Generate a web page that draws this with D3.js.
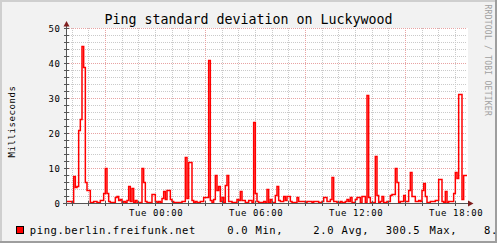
<!DOCTYPE html>
<html>
<head>
<meta charset="utf-8">
<script src="https://cdn.jsdelivr.net/npm/d3@7"></script>
<style>
body { margin: 0; background: #f2f2f2; }
svg { display: block; }
text { font-family: "DejaVu Sans Mono", monospace; }
</style>
</head>
<body>
<script>
var width = 497;
var height = 243;

// ping std deviation in ms, one value every 6 minutes (one row = one hour)
var pingStdDev = [
  0.7, 0.7, 0.5, 0.3, 7.7, 4.5, 5.0, 21.0, 24.0, 45.0,
  39.0, 6.1, 3.7, 3.7, 0.3, 0.3, 0.6, 0.6, 0.3, 0.3,
  0.9, 0.9, 2.8, 9.9, 2.8, 0.5, 0.3, 0.3, 0.3, 1.7,
  2.0, 0.8, 1.2, 0.3, 0.6, 0.3, 1.0, 4.9, 0.5, 4.4,
  0.4, 0.8, 0.4, 0.3, 0.3, 9.9, 6.1, 0.7, 0.3, 0.3,
  0.4, 2.5, 2.5, 0.7, 0.3, 0.7, 0.3, 1.5, 3.5, 1.2,
  3.6, 3.6, 1.1, 0.6, 0.3, 0.3, 0.3, 0.3, 0.3, 0.6,
  0.6, 13.2, 1.4, 11.6, 11.6, 1.0, 0.3, 0.6, 0.3, 0.3,
  0.6, 0.6, 1.6, 1.6, 1.6, 41.0, 0.9, 0.3, 1.1, 8.0,
  3.7, 5.0, 0.6, 1.6, 0.3, 5.1, 8.1, 0.6, 0.5, 0.3,
  0.3, 0.3, 1.1, 0.8, 3.5, 0.8, 0.9, 0.3, 0.3, 0.8,
  0.8, 0.3, 23.2, 3.0, 0.5, 0.3, 0.3, 0.3, 0.6, 0.3,
  4.0, 0.3, 1.1, 0.3, 0.3, 2.3, 5.0, 0.8, 0.5, 0.5,
  2.1, 0.8, 2.1, 2.1, 0.6, 0.3, 0.3, 0.3, 1.7, 0.6,
  0.6, 0.6, 0.6, 0.3, 0.6, 0.6, 0.6, 0.3, 0.6, 0.6,
  0.6, 0.3, 0.3, 0.6, 1.7, 1.7, 0.6, 0.6, 1.2, 7.3,
  0.6, 0.6, 0.3, 0.3, 0.6, 0.3, 0.3, 0.6, 1.1, 0.6,
  1.6, 0.3, 0.3, 1.2, 1.7, 1.7, 0.3, 2.0, 2.0, 0.3,
  30.9, 1.7, 0.3, 0.3, 0.3, 13.4, 2.3, 0.3, 0.6, 2.0,
  0.3, 0.3, 0.6, 0.6, 2.4, 2.5, 2.5, 9.9, 6.1, 0.3,
  0.6, 0.6, 2.3, 0.6, 0.6, 3.7, 9.0, 2.0, 2.0, 0.6,
  0.6, 0.9, 0.6, 3.7, 5.6, 1.9, 0.3, 0.3, 0.6, 0.6,
  0.6, 1.0, 1.0, 6.8, 6.8, 0.6, 0.3, 3.3, 0.3, 0.6,
  0.6, 0.6, 2.9, 9.0, 7.2, 31.1, 31.1, 1.2, 8.0, 8.0
];
var stepMinutes = 6;
var startTime = new Date(2012, 11, 31, 18, 42);   // Mon 18:42

var yTicks = [0, 10, 20, 30, 40, 50];
var legendName = "ping.berlin.freifunk.net";
var legendItems = [
  {text: "0.0", x: 227.3}, {text: "Min,", x: 255.5},
  {text: "2.0", x: 313.3}, {text: "Avg,", x: 341.5},
  {text: "300.5", x: 385.7}, {text: "Max,", x: 429.5},
  {text: "8.", x: 484}
];

var series = pingStdDev.map(function(v, i) {
  return {t: d3.timeMinute.offset(startTime, i * stepMinutes), v: v};
});
var endTime = d3.timeMinute.offset(startTime, pingStdDev.length * stepMinutes);
series.push({t: endTime, v: pingStdDev[pingStdDev.length - 1]});

var x = d3.scaleTime().domain([startTime, endTime]).range([67, 467]);
var y = d3.scaleLinear().domain([0, 50]).range([203.5, 28.5]);

function snap(v) { return Math.floor(v) + 0.5; }

var svg = d3.select("body")
            .append("svg")
            .attr("width", width)
            .attr("height", height);

// background + 3d border
svg.append("rect").attr("width", width).attr("height", height).attr("fill", "#f2f2f2");
svg.append("rect").attr("x", 0).attr("y", 0).attr("width", width).attr("height", 2).attr("fill", "#cfcfcf");
svg.append("rect").attr("x", 0).attr("y", 0).attr("width", 2).attr("height", height).attr("fill", "#cfcfcf");
svg.append("rect").attr("x", 0).attr("y", height - 2).attr("width", width).attr("height", 2).attr("fill", "#9e9e9e");
svg.append("rect").attr("x", width - 2).attr("y", 0).attr("width", 2).attr("height", height).attr("fill", "#9e9e9e");

// canvas
svg.append("rect")
   .attr("x", 67).attr("y", 28)
   .attr("width", 401).attr("height", 176)
   .attr("fill", "#ffffff");

var grid = svg.append("g").attr("shape-rendering", "crispEdges");

// horizontal grid
d3.range(0, 51, 2).forEach(function(v) {
  var major = v % 10 === 0;
  grid.append("line")
      .attr("x1", 67).attr("x2", 467)
      .attr("y1", snap(y(v))).attr("y2", snap(y(v)))
      .attr("stroke", major ? "#e8a3a3" : "#cacaca")
      .attr("stroke-dasharray", "1,1");
});

// vertical grid
var hours = d3.timeHour.range(startTime, endTime);
hours.forEach(function(h) {
  var major = h.getHours() % 6 === 3;
  grid.append("line")
      .attr("x1", snap(x(h))).attr("x2", snap(x(h)))
      .attr("y1", 28).attr("y2", 203)
      .attr("stroke", major ? "#e8a3a3" : "#cacaca")
      .attr("stroke-dasharray", "1,1");
});

// data line (stepped, like rrdtool LINE1)
var line = d3.line()
    .x(function(d) { return x(d.t); })
    .y(function(d) { return snap(y(d.v)); })
    .curve(d3.curveStepAfter);

svg.append("path")
   .datum(series)
   .attr("d", line)
   .attr("fill", "none")
   .attr("stroke", "#ff0000")
   .attr("stroke-width", 1.5);

// axes
var axis = svg.append("g").attr("shape-rendering", "crispEdges").attr("stroke", "#555");
axis.append("line").attr("x1", 66.5).attr("x2", 66.5).attr("y1", 206).attr("y2", 26);
axis.append("line").attr("x1", 63).attr("x2", 468).attr("y1", 203.5).attr("y2", 203.5);
d3.range(0, 51, 2).forEach(function(v) {
  axis.append("line").attr("x1", 64).attr("x2", 69)
      .attr("y1", snap(y(v))).attr("y2", snap(y(v)));
});
hours.forEach(function(h) {
  axis.append("line").attr("x1", snap(x(h))).attr("x2", snap(x(h)))
      .attr("y1", 201).attr("y2", 206);
});

// arrows
svg.append("path").attr("d", "M63.5,26.5L66.5,21L69.5,26.5Z").attr("fill", "#801f1f");
svg.append("path").attr("d", "M468,200.5L473.5,203.5L468,206.5Z").attr("fill", "#801f1f");

// y tick labels
svg.selectAll(".ylab")
   .data(yTicks)
   .enter().append("text")
   .attr("x", 60.5)
   .attr("y", function(d) { return y(d) + 3.5; })
   .attr("text-anchor", "end")
   .attr("font-size", "9px")
   .attr("letter-spacing", "0.6px")
   .text(function(d) { return d; });

// x tick labels
var fmt = d3.timeFormat("%a %H:%M");
svg.selectAll(".xlab")
   .data(hours.filter(function(h) { return h.getHours() % 6 === 0; }))
   .enter().append("text")
   .attr("x", function(d) { return x(d) + 0.8; })
   .attr("y", 216)
   .attr("text-anchor", "middle")
   .attr("font-size", "9px")
   .attr("letter-spacing", "0.6px")
   .text(function(d) { return fmt(d); });

// title
svg.append("text")
   .attr("x", 248.5).attr("y", 24)
   .attr("text-anchor", "middle")
   .attr("font-size", "13.3px")
   .text("Ping standard deviation on Luckywood");

// vertical label
svg.append("text")
   .attr("transform", "translate(14.5,121.5) rotate(-90)")
   .attr("text-anchor", "middle")
   .attr("font-size", "9px")
   .attr("letter-spacing", "0.6px")
   .text("Milliseconds");

// watermark
svg.append("text")
   .attr("transform", "translate(484.5,4.5) rotate(90)")
   .attr("font-size", "8px")
   .attr("letter-spacing", "0.25px")
   .attr("fill", "#a0a0a0")
   .text("RRDTOOL / TOBI OETIKER");

// legend
svg.append("rect")
   .attr("x", 16.5).attr("y", 226.5)
   .attr("width", 7).attr("height", 7)
   .attr("fill", "#ff0000")
   .attr("stroke", "#000")
   .attr("shape-rendering", "crispEdges");

svg.append("text")
   .attr("x", 29.8).attr("y", 233.5)
   .attr("font-size", "10.5px")
   .attr("letter-spacing", "0.6px")
   .text(legendName);

svg.selectAll(".leg")
   .data(legendItems)
   .enter().append("text")
   .attr("x", function(d) { return d.x; })
   .attr("y", 233.5)
   .attr("font-size", "10.5px")
   .attr("letter-spacing", "0.6px")
   .text(function(d) { return d.text; });
</script>
</body>
</html>
